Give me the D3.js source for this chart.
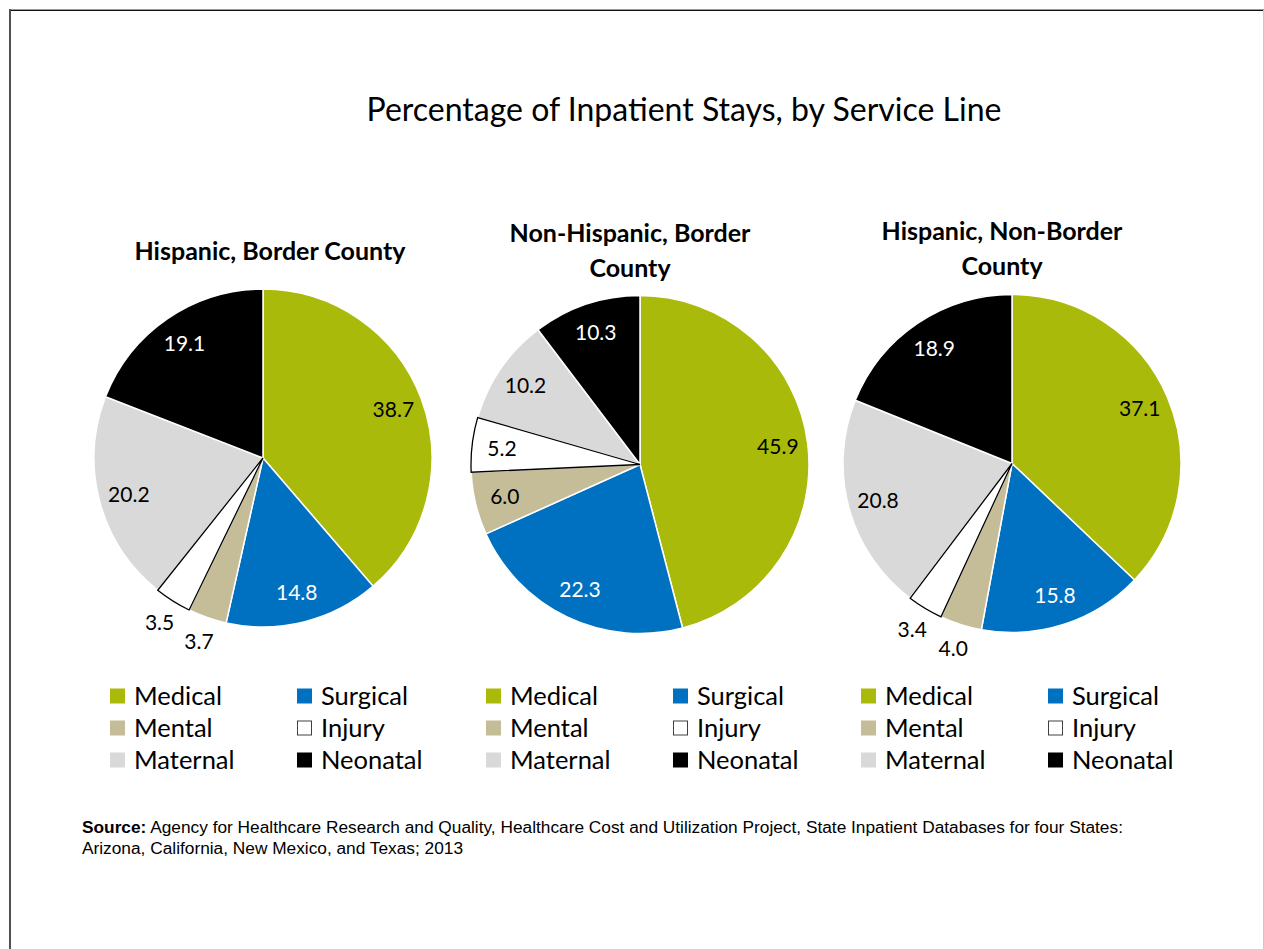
<!DOCTYPE html>
<html>
<head>
<meta charset="utf-8">
<script src="https://cdn.jsdelivr.net/npm/d3@7"></script>
<style>
  html, body { margin: 0; padding: 0; background: #fff; }
  svg { display: block; }
</style>
</head>
<body>
<svg id="chart" width="1264" height="949"></svg>
<script>
// Service lines, in the order slices are drawn clockwise from 12 o'clock
const categories = ["Medical", "Surgical", "Mental", "Injury", "Maternal", "Neonatal"];

// Percentage of inpatient stays per service line, one array per population
const hispanicBorder    = [38.7, 14.8, 3.7, 3.5, 20.2, 19.1];
const nonHispanicBorder = [45.9, 22.3, 6.0, 5.2, 10.2, 10.3];
const hispanicNonBorder = [37.1, 15.8, 4.0, 3.4, 20.8, 18.9];

// Panel titles (already split into lines)
const panelTitles = [
  ["Hispanic, Border County"],
  ["Non-Hispanic, Border", "County"],
  ["Hispanic, Non-Border", "County"]
];

// Legend arrangement: two columns, three rows
const legendOrder = [["Medical", "Surgical"], ["Mental", "Injury"], ["Maternal", "Neonatal"]];

const chartTitle = "Percentage of Inpatient Stays, by Service Line";
const sourceLines = [
  ["Source:", " Agency for Healthcare Research and Quality, Healthcare Cost and Utilization Project, State Inpatient Databases for four States:"],
  ["", "Arizona, California, New Mexico, and Texas; 2013"]
];

// ---- styling / layout ----
const colors = {
  Medical: "#A9BA0B", Surgical: "#0070C0", Mental: "#C4BD97",
  Injury: "#FFFFFF", Maternal: "#D9D9D9", Neonatal: "#000000"
};
const labelColors = {
  Medical: "#000", Surgical: "#fff", Mental: "#000",
  Injury: "#000", Maternal: "#000", Neonatal: "#fff"
};
const FONT = "Lato, 'Open Sans', sans-serif";
const R = 169;
const panels = [
  { values: hispanicBorder,    cx: 263,  cy: 458,   titleX: 270,  titleY: 260, legendX: 110 },
  { values: nonHispanicBorder, cx: 640,  cy: 464.5, titleX: 630,  titleY: 242, legendX: 486 },
  { values: hispanicNonBorder, cx: 1012, cy: 463.5, titleX: 1002, titleY: 240, legendX: 861 }
];

const svg = d3.select("#chart");

// frame
svg.append("line").attr("x1", 9).attr("x2", 1264).attr("y1", 9.5).attr("y2", 9.5)
  .attr("stroke", "#9a9a9a").attr("stroke-width", 1);
svg.append("line").attr("x1", 9).attr("x2", 1264).attr("y1", 10.5).attr("y2", 10.5)
  .attr("stroke", "#111").attr("stroke-width", 1);
svg.append("line").attr("x1", 10).attr("x2", 10).attr("y1", 9).attr("y2", 949)
  .attr("stroke", "#505050").attr("stroke-width", 2);
svg.append("line").attr("x1", 1263.5).attr("x2", 1263.5).attr("y1", 10).attr("y2", 949)
  .attr("stroke", "#c8c8c8").attr("stroke-width", 1);

// main title
svg.append("text")
  .attr("x", 684).attr("y", 121)
  .attr("text-anchor", "middle")
  .attr("font-family", FONT).attr("font-size", 32)
  .attr("fill", "#000")
  .text(chartTitle);

const pie = d3.pie().sort(null).value(d => d.value);
const arc = d3.arc().innerRadius(0).outerRadius(R);
const insideLabelArc = d3.arc().innerRadius(139).outerRadius(139);
const outsideLabelArc = d3.arc().innerRadius(194).outerRadius(194);

panels.forEach((p, i) => {
  const data = categories.map((c, k) => ({ category: c, value: p.values[k] }));
  const g = svg.append("g").attr("transform", `translate(${p.cx},${p.cy})`);

  const arcs = pie(data);
  // regular slices with white separators, then the white Injury slice outlined in black
  g.selectAll("path.slice")
    .data(arcs.filter(a => a.data.category !== "Injury"))
    .join("path")
    .attr("class", "slice")
    .attr("d", arc)
    .attr("fill", a => colors[a.data.category])
    .attr("stroke", "#fff").attr("stroke-width", 1.5)
    .attr("stroke-linejoin", "round");
  g.selectAll("path.injury")
    .data(arcs.filter(a => a.data.category === "Injury"))
    .join("path")
    .attr("class", "injury")
    .attr("d", arc)
    .attr("fill", colors.Injury)
    .attr("stroke", "#000").attr("stroke-width", 1.3)
    .attr("stroke-linejoin", "miter");

  // value labels: small slices get their label outside the pie
  g.selectAll("text.val")
    .data(arcs)
    .join("text")
    .attr("class", "val")
    .attr("transform", a => {
      const c = (a.data.value < 5 ? outsideLabelArc : insideLabelArc).centroid(a);
      return `translate(${c[0]},${c[1]})`;
    })
    .attr("text-anchor", "middle")
    .attr("dy", "0.36em")
    .attr("font-family", FONT).attr("font-size", 21)
    .attr("fill", a => a.data.value < 5 ? "#000" : labelColors[a.data.category])
    .text(a => d3.format(".1f")(a.data.value));

  // panel title
  const t = svg.append("text")
    .attr("x", p.titleX).attr("y", p.titleY)
    .attr("text-anchor", "middle")
    .attr("font-family", FONT).attr("font-size", 25).attr("font-weight", "bold")
    .attr("fill", "#000");
  panelTitles[i].forEach((line, li) => {
    t.append("tspan").attr("x", p.titleX).attr("dy", li === 0 ? 0 : 35).text(line);
  });

  // legend
  const lg = svg.append("g").attr("transform", `translate(${p.legendX},0)`);
  legendOrder.forEach((row, r) => {
    row.forEach((cat, c) => {
      const x = c * 187;
      const yc = 696 + r * 32;
      lg.append("rect")
        .attr("x", cat === "Injury" ? x + 0.5 : x).attr("y", cat === "Injury" ? yc - 7.5 + 0.5 : yc - 7.5)
        .attr("width", cat === "Injury" ? 14 : 15).attr("height", cat === "Injury" ? 14 : 15)
        .attr("fill", colors[cat])
        .attr("stroke", cat === "Injury" ? "#404040" : "none").attr("stroke-width", 1);
      lg.append("text")
        .attr("x", x + 24).attr("y", yc).attr("dy", "0.36em")
        .attr("font-family", FONT).attr("font-size", 25.5)
        .attr("fill", "#000")
        .text(cat);
    });
  });
});

// source note
const src = svg.append("g");
sourceLines.forEach((ln, k) => {
  const t = src.append("text")
    .attr("x", 82).attr("y", 833 + k * 21)
    .attr("font-family", "'Liberation Sans', Arial, sans-serif").attr("font-size", 17.3)
    .attr("fill", "#000");
  if (ln[0]) t.append("tspan").attr("font-weight", "bold").text(ln[0]);
  t.append("tspan").text(ln[1]);
});
</script>
</body>
</html>
